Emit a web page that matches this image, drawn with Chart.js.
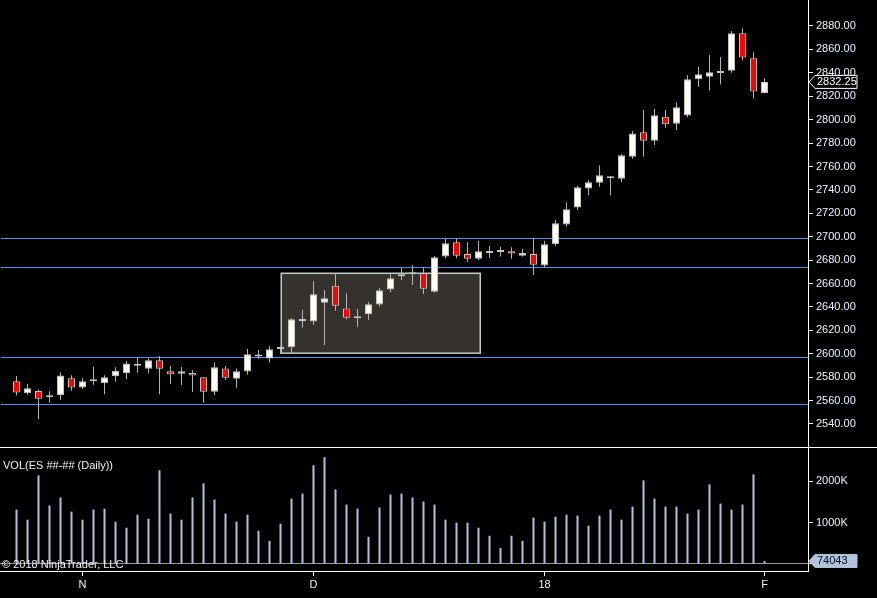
<!DOCTYPE html>
<html>
<head>
<meta charset="utf-8">
<title>ES Daily</title>
<script src="https://cdn.jsdelivr.net/npm/chart.js"></script>
<style>
  html, body { margin: 0; padding: 0; background: #000; }
  #wrap { position: relative; width: 877px; height: 598px; overflow: hidden; background: #000; font-family: "Liberation Sans", Arial, sans-serif; }
  #priceBox { position: absolute; left: 0; top: 0; width: 877px; height: 448px; }
  #volumeBox { position: absolute; left: 0; top: 448px; width: 877px; height: 150px; }
  .note { position: absolute; color: #f2f2f2; font-size: 11px; line-height: 13px; white-space: nowrap; pointer-events: none; }
</style>
</head>
<body>
<div id="wrap">
  <div id="priceBox"><canvas id="priceChart"></canvas></div>
  <div id="volumeBox"><canvas id="volumeChart"></canvas></div>
  <div class="note" style="left:3px; top:459px;">VOL(ES ##-## (Daily))</div>
  <div class="note" style="left:2px; top:558px;">© 2018 NinjaTrader, LLC</div>
</div>
<script>
// daily bars, oldest first
const opens = [
    2576.5, 2566.25, 2568.25, 2562.75, 2564.5, 2579, 2571.25, 2576.5, 2574.75, 2580.75,
    2583.25, 2589.75, 2587.25, 2594.5, 2585, 2583, 2583.5, 2580, 2567.5, 2587.5,
    2578.75, 2584.75, 2597.75, 2596, 2604, 2605.5, 2628, 2627.5, 2643.5, 2658,
    2638.75, 2630.25, 2633.75, 2642, 2655, 2666.25, 2668, 2668.75, 2653, 2683,
    2695.25, 2685.25, 2681.25, 2686, 2687, 2687.5, 2683.75, 2685.25, 2675.5, 2693.5,
    2710.5, 2725, 2741.25, 2746, 2750, 2749.5, 2768.25, 2789.25, 2782, 2802.5,
    2796.5, 2803.5, 2834.5, 2836.75, 2839.75, 2841.75, 2873.75, 2852.5, 2822.5
];
const highs = [
    2581, 2574.25, 2569.5, 2568, 2584.25, 2581.75, 2579, 2589, 2581.75, 2588.5,
    2593.75, 2597, 2596, 2598, 2589.5, 2588.75, 2586, 2580, 2592.75, 2589.5,
    2587.5, 2604, 2603.25, 2606.5, 2606.5, 2630.5, 2637.5, 2662.25, 2654.5, 2668.75,
    2651.5, 2638.25, 2644.25, 2656, 2668, 2673.25, 2675.75, 2674, 2683.5, 2698,
    2698, 2695.25, 2696.25, 2692, 2691.5, 2691, 2689.5, 2698.5, 2696.25, 2714.25,
    2729.5, 2743.25, 2748.5, 2760.75, 2752, 2770.5, 2790.25, 2808.25, 2809, 2808.25,
    2814.75, 2838, 2845.25, 2855.25, 2853.5, 2875.75, 2878, 2857.5, 2835.25
];
const lows = [
    2564.25, 2565, 2544.25, 2558.25, 2560.75, 2568.5, 2570, 2573.5, 2565.5, 2576,
    2578.5, 2583.75, 2583.25, 2565.5, 2574.25, 2573.25, 2567.25, 2558.25, 2564.75, 2577.5,
    2571, 2582, 2595.75, 2592.5, 2599.75, 2600.5, 2622.25, 2624.5, 2607.5, 2636.75,
    2629.5, 2623, 2628.75, 2640.25, 2652.5, 2663, 2658.75, 2651, 2652.25, 2681.5,
    2681.5, 2678.5, 2680, 2681.75, 2683, 2681.25, 2683, 2667.25, 2674, 2692.25,
    2708.5, 2722.75, 2735.5, 2742.75, 2735.5, 2746.75, 2766.5, 2768.25, 2778.25, 2793,
    2791.25, 2802, 2828, 2824.75, 2830, 2840, 2850.5, 2818, 2822.5
];
const closes = [
    2567, 2570.5, 2561.5, 2564.5, 2581.5, 2571.25, 2576.5, 2578.25, 2580, 2585.5,
    2591.75, 2591.25, 2594.5, 2587.25, 2582.5, 2585, 2581.5, 2567.5, 2588.5, 2579.5,
    2585, 2599.5, 2598.75, 2603.75, 2604.5, 2629.5, 2628.75, 2650.75, 2647.5, 2641,
    2630.75, 2632, 2642.25, 2654.25, 2664.5, 2668, 2669.5, 2655.5, 2682.5, 2694.5,
    2683.75, 2681.25, 2687.5, 2686.5, 2687.5, 2685.75, 2686, 2676, 2693.5, 2711.5,
    2723.5, 2742.25, 2746.5, 2752.5, 2750.75, 2769.5, 2788.25, 2782, 2803.75, 2796,
    2810.5, 2834.5, 2838.75, 2840.5, 2840.25, 2873.75, 2853, 2824, 2832.25
];
const volumes = [
    1317000, 1073000, 2146000, 1415000, 1610000, 1268000, 1073000, 1317000, 1341000, 1024000,
    878000, 1195000, 1098000, 2268000, 1220000, 1073000, 1610000, 1951000, 1561000, 1220000,
    1024000, 1195000, 805000, 561000, 976000, 1585000, 1707000, 2390000, 2585000, 1805000,
    1439000, 1341000, 659000, 1366000, 1683000, 1707000, 1610000, 1512000, 1439000, 1073000,
    1000000, 1000000, 878000, 683000, 390000, 683000, 561000, 1122000, 1024000, 1146000,
    1195000, 1171000, 927000, 1171000, 1317000, 1073000, 1390000, 2024000, 1585000, 1390000,
    1390000, 1220000, 1317000, 1927000, 1463000, 1317000, 1439000, 2171000, 74043
];

const monthTicks = [6, 27, 48, 68];
const monthLabels = ['N', 'D', '18', 'F'];
const priceTicks = [2540, 2560, 2580, 2600, 2620, 2640, 2660, 2680, 2700,
    2720, 2740, 2760, 2780, 2800, 2820, 2840, 2860, 2880];
const volumeTicks = [0, 1000000, 2000000];

// drawn levels and the consolidation box
const levels = [2698.75, 2674, 2597, 2557];
const zoneFrom = 24.07;
const zoneTo = 42.16;
const zoneTop = 2668.75;
const zoneBottom = 2600.5;

const FONT = '"Liberation Sans", Arial, sans-serif';
const AXIS_TEXT = '#eef3ff';

const bodies = closes.map((c, i) => ({ x: i, y: [opens[i], c] }));
const wicks = highs.map((h, i) => ({ x: i, y: [lows[i], h] }));
const bodyColors = closes.map((c, i) => c >= opens[i] ? '#fffff4' : '#ff0000');
const volumeBars = volumes.map((v, i) => ({ x: i, y: v }));

function drawTag(ctx, y, text, fill, stroke, textColor) {
    ctx.save();
    ctx.beginPath();
    ctx.moveTo(809, y);
    ctx.lineTo(815, y - 6.5);
    ctx.lineTo(857, y - 6.5);
    ctx.lineTo(857, y + 6.5);
    ctx.lineTo(815, y + 6.5);
    ctx.closePath();
    ctx.fillStyle = fill;
    ctx.fill();
    ctx.strokeStyle = stroke;
    ctx.lineWidth = 1;
    ctx.stroke();
    ctx.fillStyle = textColor;
    ctx.font = '11px ' + FONT;
    ctx.textBaseline = 'middle';
    ctx.fillText(text, 817, y + 0.5);
    ctx.restore();
}

const priceOverlay = {
    id: 'priceOverlay',
    beforeDatasetsDraw(chart) {
        const { ctx, chartArea, scales } = chart;
        ctx.save();
        // consolidation box
        const x0 = scales.x.getPixelForValue(zoneFrom);
        const x1 = scales.x.getPixelForValue(zoneTo);
        const y0 = scales.y.getPixelForValue(zoneTop);
        const y1 = scales.y.getPixelForValue(zoneBottom);
        ctx.fillStyle = '#35312c';
        ctx.fillRect(x0, y0, x1 - x0, y1 - y0);
        ctx.strokeStyle = '#c8c8c8';
        ctx.lineWidth = 1.5;
        ctx.strokeRect(x0, y0, x1 - x0, y1 - y0);
        // horizontal levels
        ctx.strokeStyle = '#5f8fe8';
        ctx.lineWidth = 1;
        levels.forEach(v => {
            const y = Math.round(scales.y.getPixelForValue(v)) + 0.5;
            ctx.beginPath();
            ctx.moveTo(chartArea.left + 1, y);
            ctx.lineTo(chartArea.right, y);
            ctx.stroke();
        });
        ctx.restore();
    },
    afterDraw(chart) {
        const { ctx, chartArea, scales } = chart;
        const last = closes[closes.length - 1];
        drawTag(ctx, scales.y.getPixelForValue(last), last.toFixed(2), '#000000', '#ffffff', '#ffffff');
        ctx.save();
        ctx.fillStyle = '#ffffff';
        ctx.fillRect(0, chartArea.bottom, chart.width, 1);
        ctx.restore();
    }
};

const volumeOverlay = {
    id: 'volumeOverlay',
    afterDraw(chart) {
        const last = volumes[volumes.length - 1];
        drawTag(chart.ctx, chart.scales.y.getPixelForValue(last), String(last), '#b0c4de', '#b0c4de', '#0a0a1e');
    }
};

const priceCtx = document.getElementById('priceChart').getContext('2d');

new Chart(priceCtx, {
    type: 'bar',
    data: {
        datasets: [
            {
                data: bodies,
                backgroundColor: bodyColors,
                borderColor: '#c4c4c4',
                borderWidth: 1,
                borderSkipped: false,
                barThickness: 7,
                minBarLength: 2,
                grouped: false,
                inflateAmount: 0,
            },
            {
                data: wicks,
                backgroundColor: '#b4b4b4',
                borderWidth: 0,
                barThickness: 1,
                grouped: false,
                inflateAmount: 0,
            },
        ],
    },
    options: {
        responsive: true,
        maintainAspectRatio: false,
        animation: false,
        layout: { padding: { bottom: 1 } },
        plugins: {
            legend: { display: false },
            tooltip: { enabled: false },
        },
        scales: {
            x: {
                type: 'linear',
                min: -1.5,
                max: 71.9545,
                offset: false,
                grid: { offset: false },
                display: false,
            },
            y: {
                position: 'right',
                min: 2520.35,
                max: 2902.21,
                afterBuildTicks: scale => {
                    scale.ticks = priceTicks.map(v => ({ value: v }));
                },
                afterFit: scale => {
                    scale.width = 69;
                    scale.paddingTop = 0;
                    scale.paddingBottom = 0;
                },
                grid: {
                    drawOnChartArea: false,
                    tickLength: 5,
                    tickColor: '#ffffff',
                },
                border: { color: '#ffffff' },
                ticks: {
                    color: AXIS_TEXT,
                    font: { family: FONT, size: 11 },
                    padding: 3,
                    autoSkip: false,
                    callback: v => Number(v).toFixed(2),
                },
            },
        },
    },
    plugins: [priceOverlay],
});

const volumeCtx = document.getElementById('volumeChart').getContext('2d');

new Chart(volumeCtx, {
    type: 'bar',
    data: {
        datasets: [
            {
                data: volumeBars,
                backgroundColor: '#b0c4de',
                borderWidth: 0,
                barThickness: 2,
                inflateAmount: 0,
            },
        ],
    },
    options: {
        responsive: true,
        maintainAspectRatio: false,
        animation: false,
        plugins: {
            legend: { display: false },
            tooltip: { enabled: false },
        },
        scales: {
            x: {
                type: 'linear',
                min: -1.5,
                max: 71.9545,
                offset: false,
                afterBuildTicks: scale => {
                    scale.ticks = monthTicks.map(v => ({ value: v }));
                },
                afterFit: scale => {
                    scale.height = 27;
                    scale.paddingLeft = 0;
                    scale.paddingRight = 0;
                },
                grid: {
                    offset: false,
                    drawOnChartArea: false,
                    tickLength: 5,
                    tickColor: '#ffffff',
                },
                border: { color: '#ffffff' },
                ticks: {
                    color: AXIS_TEXT,
                    font: { family: FONT, size: 11 },
                    padding: 2,
                    autoSkip: false,
                    maxRotation: 0,
                    callback: (v, index) => monthLabels[index],
                },
            },
            y: {
                position: 'right',
                min: -169500,
                max: 2808700,
                afterBuildTicks: scale => {
                    scale.ticks = volumeTicks.map(v => ({ value: v }));
                },
                afterFit: scale => {
                    scale.width = 69;
                    scale.paddingTop = 0;
                    scale.paddingBottom = 0;
                },
                grid: {
                    color: c => (c.tick && c.tick.value === 0) ? '#9a9a9a' : 'rgba(0,0,0,0)',
                    tickLength: 5,
                    tickColor: '#ffffff',
                },
                border: { color: '#ffffff' },
                ticks: {
                    color: AXIS_TEXT,
                    font: { family: FONT, size: 11 },
                    padding: 3,
                    autoSkip: false,
                    callback: v => v === 0 ? '0' : (v / 1000) + 'K',
                },
            },
        },
    },
    plugins: [volumeOverlay],
});
</script>
</body>
</html>
